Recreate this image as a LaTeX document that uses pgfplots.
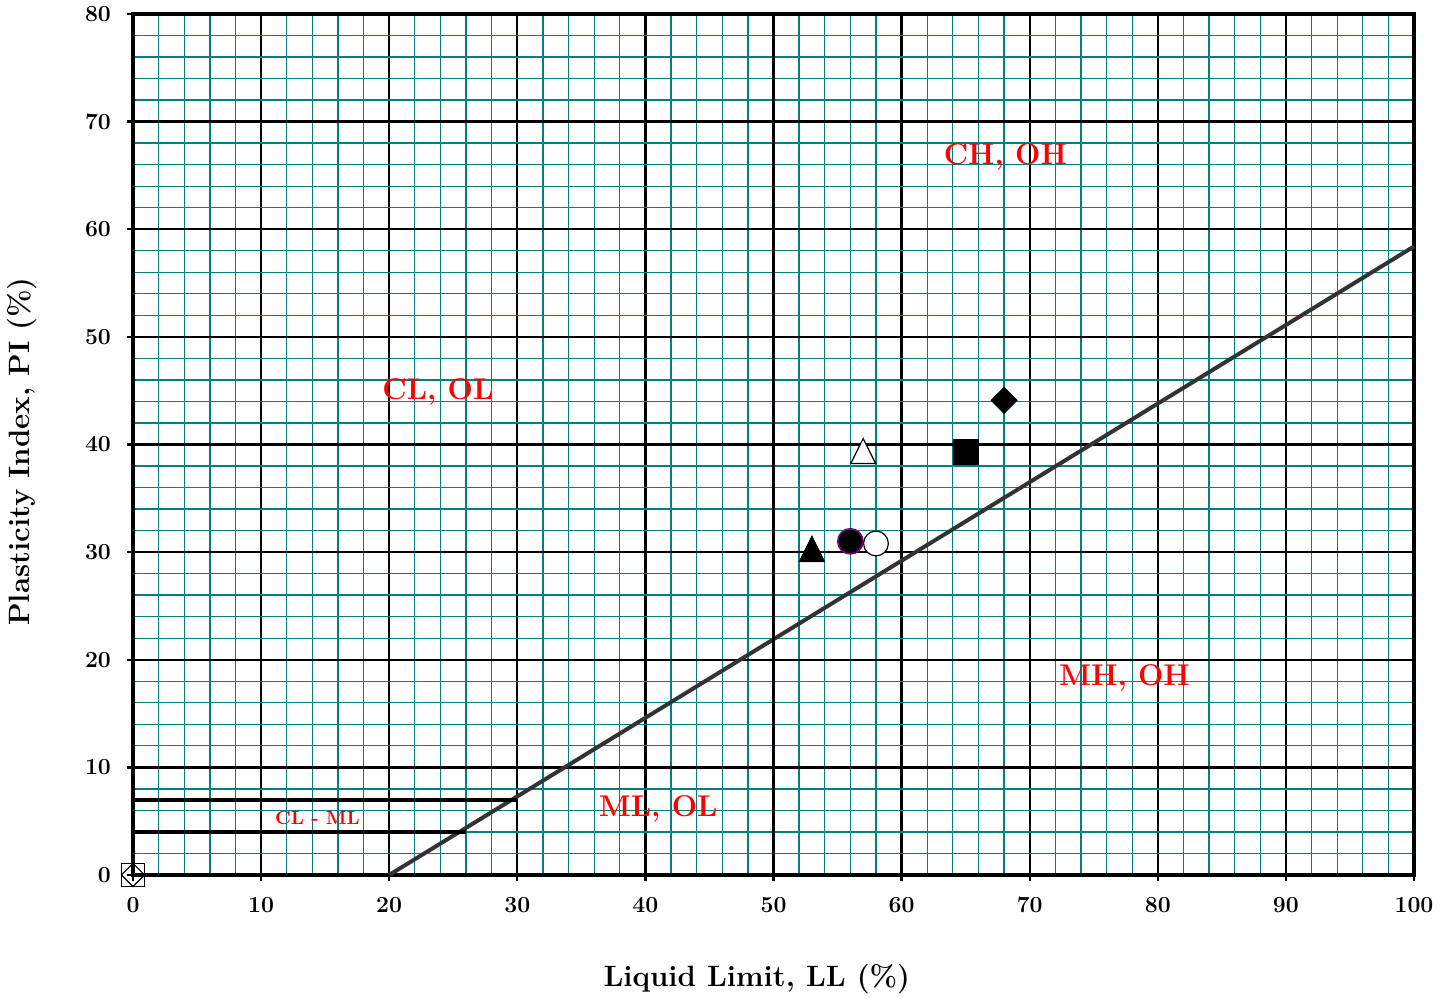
\documentclass[border=0pt]{standalone}
\usepackage{pgfplots}
\pgfplotsset{compat=1.18}
\definecolor{gridteal}{RGB}{0,128,128}
\definecolor{aline}{RGB}{51,51,51}
\definecolor{mypurple}{RGB}{128,0,128}
\begin{document}
\begin{tikzpicture}
\begin{axis}[
 scale only axis, width=640.5pt, height=430.5pt,
 xmin=0,xmax=100,ymin=0,ymax=80,
 xtick={0,10,...,100}, ytick={0,10,...,80},
 minor x tick num=4, minor y tick num=4,
 grid=both,
 major grid style={black,line width=1.2pt},
 minor grid style={gridteal,line width=0.65pt},
 axis line style={line width=2.4pt},
 tick pos=left,
 tick align=outside, major tick length=3pt, minor tick length=0pt,
 tick style={black,line width=1.2pt},
 /pgf/number format/assume math mode=true,
 ticklabel style={font=\fontsize{11.5}{13}\selectfont\bfseries},
 xticklabel style={yshift=-4.5pt},
 yticklabel style={xshift=-4.5pt},
 xlabel={Liquid Limit, LL (\%)}, ylabel={Plasticity Index, PI (\%)},
 label style={font=\fontsize{14.7}{17}\selectfont\bfseries},
 xlabel style={at={(axis description cs:0.487,-0.1208)},anchor=center},
 ylabel style={at={(axis description cs:-0.0867,0.4919)},anchor=center},
 clip=false,
]
\addplot[aline, line width=2pt] coordinates {(20,0)(100,58.4)};
\addplot[black, line width=2pt] coordinates {(0,7)(30,7)};
\addplot[black, line width=2pt] coordinates {(0,4)(26,4)};
\addplot[black, line width=1.6pt] coordinates {(50,0)(50,80)};
% samples
\addplot[only marks, mark=triangle*, mark size=7.4pt, black, mark options={yscale=1.16}] coordinates {(53,29.9)};
\addplot[only marks, mark=*, mark size=6.3pt, mark options={draw=mypurple, fill=black, line width=0.8pt}] coordinates {(56,31)};
\addplot[only marks, mark=*, mark size=6.2pt, mark options={draw=black, fill=white, line width=0.6pt}] coordinates {(58,30.8)};
\addplot[only marks, mark=triangle*, mark size=7.2pt, mark options={draw=black, fill=white, line width=0.6pt, yscale=1.16}] coordinates {(57,39.0)};
\addplot[only marks, mark=square*, mark size=6.2pt, black] coordinates {(65,39.3)};
\addplot[only marks, mark=square*, mark size=4.6pt, black, mark options={rotate=45}] coordinates {(68,44.1)};
\addplot[only marks, mark=square, mark size=5.8pt, black, mark options={line width=0.6pt}] coordinates {(0,0)};
\addplot[only marks, mark=square, mark size=4.1pt, black, mark options={rotate=45, line width=0.6pt}] coordinates {(0,0)};
% region labels
\node[red, font=\fontsize{15}{18}\selectfont\bfseries] at (axis cs:68.1,66.7) {CH, OH};
\node[red, font=\fontsize{15}{18}\selectfont\bfseries] at (axis cs:23.8,44.9) {CL, OL};
\node[red, font=\fontsize{15}{18}\selectfont\bfseries] at (axis cs:77.4,18.3) {MH, OH};
\node[red, font=\fontsize{15}{18}\selectfont\bfseries] at (axis cs:41.0,6.1) {ML, OL};
\node[red, font=\fontsize{9.5}{11}\selectfont\bfseries] at (axis cs:14.4,5.3) {CL - ML};
\coordinate (BL) at (axis cs:-10.382,-11.52);
\coordinate (TR) at (axis cs:102.81,81.30);
\end{axis}
\pgfresetboundingbox
\path[use as bounding box] (BL) rectangle (TR);
\end{tikzpicture}
\end{document}
